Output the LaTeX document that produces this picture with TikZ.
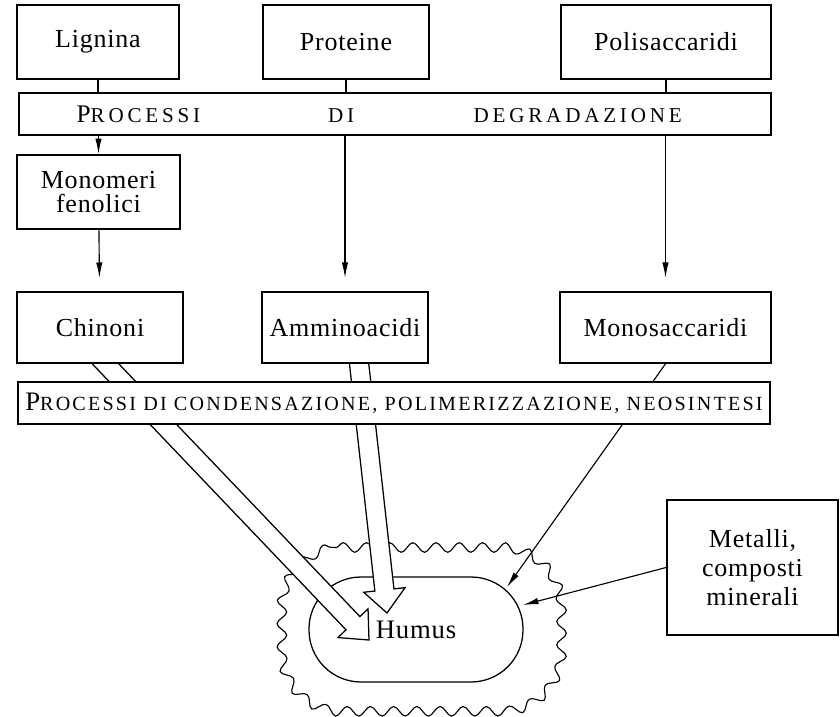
\documentclass[tikz,border=0pt]{standalone}
\usepackage{fontspec}
\setmainfont{Liberation Serif}[LetterSpace=3]
\newfontfamily\capsone{Liberation Serif}[LetterSpace=18]
\newfontfamily\capstwo{Liberation Serif}[LetterSpace=11]
\usetikzlibrary{arrows.meta,calc,backgrounds,decorations.pathmorphing}

\newcommand{\hollowarrow}[2]{%
  \draw[hollow] ($(#1)!0.24cm!90:(#2)$) -- ($(#2)!0.58cm!(#1)!0.24cm!-90:(#1)$)
    -- ($(#2)!0.58cm!(#1)!0.52cm!-90:(#1)$) -- (#2)
    -- ($(#2)!0.58cm!(#1)!0.52cm!90:(#1)$) -- ($(#2)!0.58cm!(#1)!0.24cm!90:(#1)$)
    -- ($(#1)!0.24cm!-90:(#2)$) -- cycle;}

\begin{document}
\begin{tikzpicture}[
    box/.style={draw, fill=white, line width=1.2pt, inner sep=0pt, align=center,
      font=\fontsize{18.5}{17}\selectfont},
    band/.style={draw, fill=white, line width=1.2pt, inner sep=0pt, minimum width=18.8cm, minimum height=1.05cm},
    arr/.style={line width=0.8pt, -{Latex[length=11pt,width=4.5pt]}},
    hollow/.style={draw, fill=white, line width=0.9pt, line join=miter}
  ]
    \useasboundingbox (0,0) rectangle (21,-17.925);

    % Nodes
    \node[box, minimum width=4.05cm, minimum height=1.85cm] (lignina) at (2.45,-1.05) {Lignina};
    \node[box, minimum width=4.15cm, minimum height=1.85cm] (proteine) at (8.65,-1.05) {Proteine};
    \node[box, minimum width=5.25cm, minimum height=1.85cm] (polisaccaridi) at (16.65,-1.05) {Polisaccaridi};
    \node[band, text width=18.8cm, align=left] (degradazione) at (9.875,-2.85)
      {\hspace*{41pt}{\fontsize{18}{17}\selectfont P}{\capsone\fontsize{15}{15}\selectfont ROCESSI}\hspace{91pt}{\capsone\fontsize{15}{15}\selectfont DI}\hspace{85pt}{\capsone\fontsize{15}{15}\selectfont DEGRADAZIONE}};
    \node[box, minimum width=4.075cm, minimum height=1.85cm] (monomeri) at (2.4625,-4.8) {Monomeri\\fenolici};
    \node[box, minimum width=4.15cm, minimum height=1.775cm] (chinoni) at (2.5,-8.1875) {Chinoni};
    \node[box, minimum width=4.15cm, minimum height=1.775cm] (amminoacidi) at (8.625,-8.1875) {Amminoacidi};
    \node[box, minimum width=5.275cm, minimum height=1.775cm] (monosaccaridi) at (16.6375,-8.1875) {Monosaccaridi};
    \node[band] (condensazione) at (9.85,-10.075)
      {{\fontsize{19}{19}\selectfont P}{\capstwo\fontsize{14.3}{14.3}\selectfont ROCESSI DI CONDENSAZIONE, POLIMERIZZAZIONE, NEOSINTESI}};
    \node[box, minimum width=4.275cm, minimum height=3.375cm, font=\fontsize{18.5}{20.5}\selectfont] (metalli) at (18.8125,-14.1875) {Metalli,\\composti\\minerali};

    \coordinate (startC) at ($(chinoni.south)+(-0.1,0.25)$);
    \coordinate (startA) at ($(amminoacidi.south)+(0.325,0.25)$);
    \coordinate (tipC) at (9.225,-16.0);
    \coordinate (tipA) at (9.675,-15.325);
    \coordinate (tipM) at (12.675,-14.675);
    \coordinate (tipX) at (13.075,-15.125);

    % Edges
    \draw[line width=0.8pt] (lignina) -- (lignina |- degradazione.north);
    \draw[line width=0.8pt] (proteine) -- (proteine |- degradazione.north);
    \draw[line width=0.8pt] (polisaccaridi) -- (polisaccaridi |- degradazione.north);
    \draw[arr] (degradazione.south -| monomeri) -- (monomeri);
    \draw[arr, shorten >=0.33cm] (monomeri) -- (chinoni);
    \draw[arr, shorten >=0.33cm] (degradazione.south -| amminoacidi) -- (amminoacidi);
    \draw[arr, shorten >=0.33cm] (degradazione.south -| monosaccaridi) -- (monosaccaridi);

    \begin{scope}[on background layer]
      \node[draw, line width=0.9pt, rounded corners=1.3cm, minimum width=5.35cm, minimum height=2.625cm,
        font=\fontsize{19}{19}\selectfont] (humus) at (10.4,-15.7375) {Humus};
      % wavy outline round the humus
      \draw[line width=0.8pt, decorate, decoration={snake, segment length=0.58cm, amplitude=0.12cm}]
        ($(humus)+(-2,2.05)$) -- ++(4,0) arc[start angle=90, end angle=0, radius=1.5cm]
        -- ++(0,-1.1) arc[start angle=0, end angle=-90, radius=1.5cm]
        -- ++(-4,0) arc[start angle=270, end angle=180, radius=1.5cm]
        -- ++(0,1.1) arc[start angle=180, end angle=90, radius=1.5cm] -- cycle;
      \hollowarrow{startC}{tipC}
      \hollowarrow{startA}{tipA}
      \draw[arr] (monosaccaridi.south) -- (tipM);
      \draw[arr] (metalli.west) -- (tipX);
    \end{scope}
\end{tikzpicture}
\end{document}
